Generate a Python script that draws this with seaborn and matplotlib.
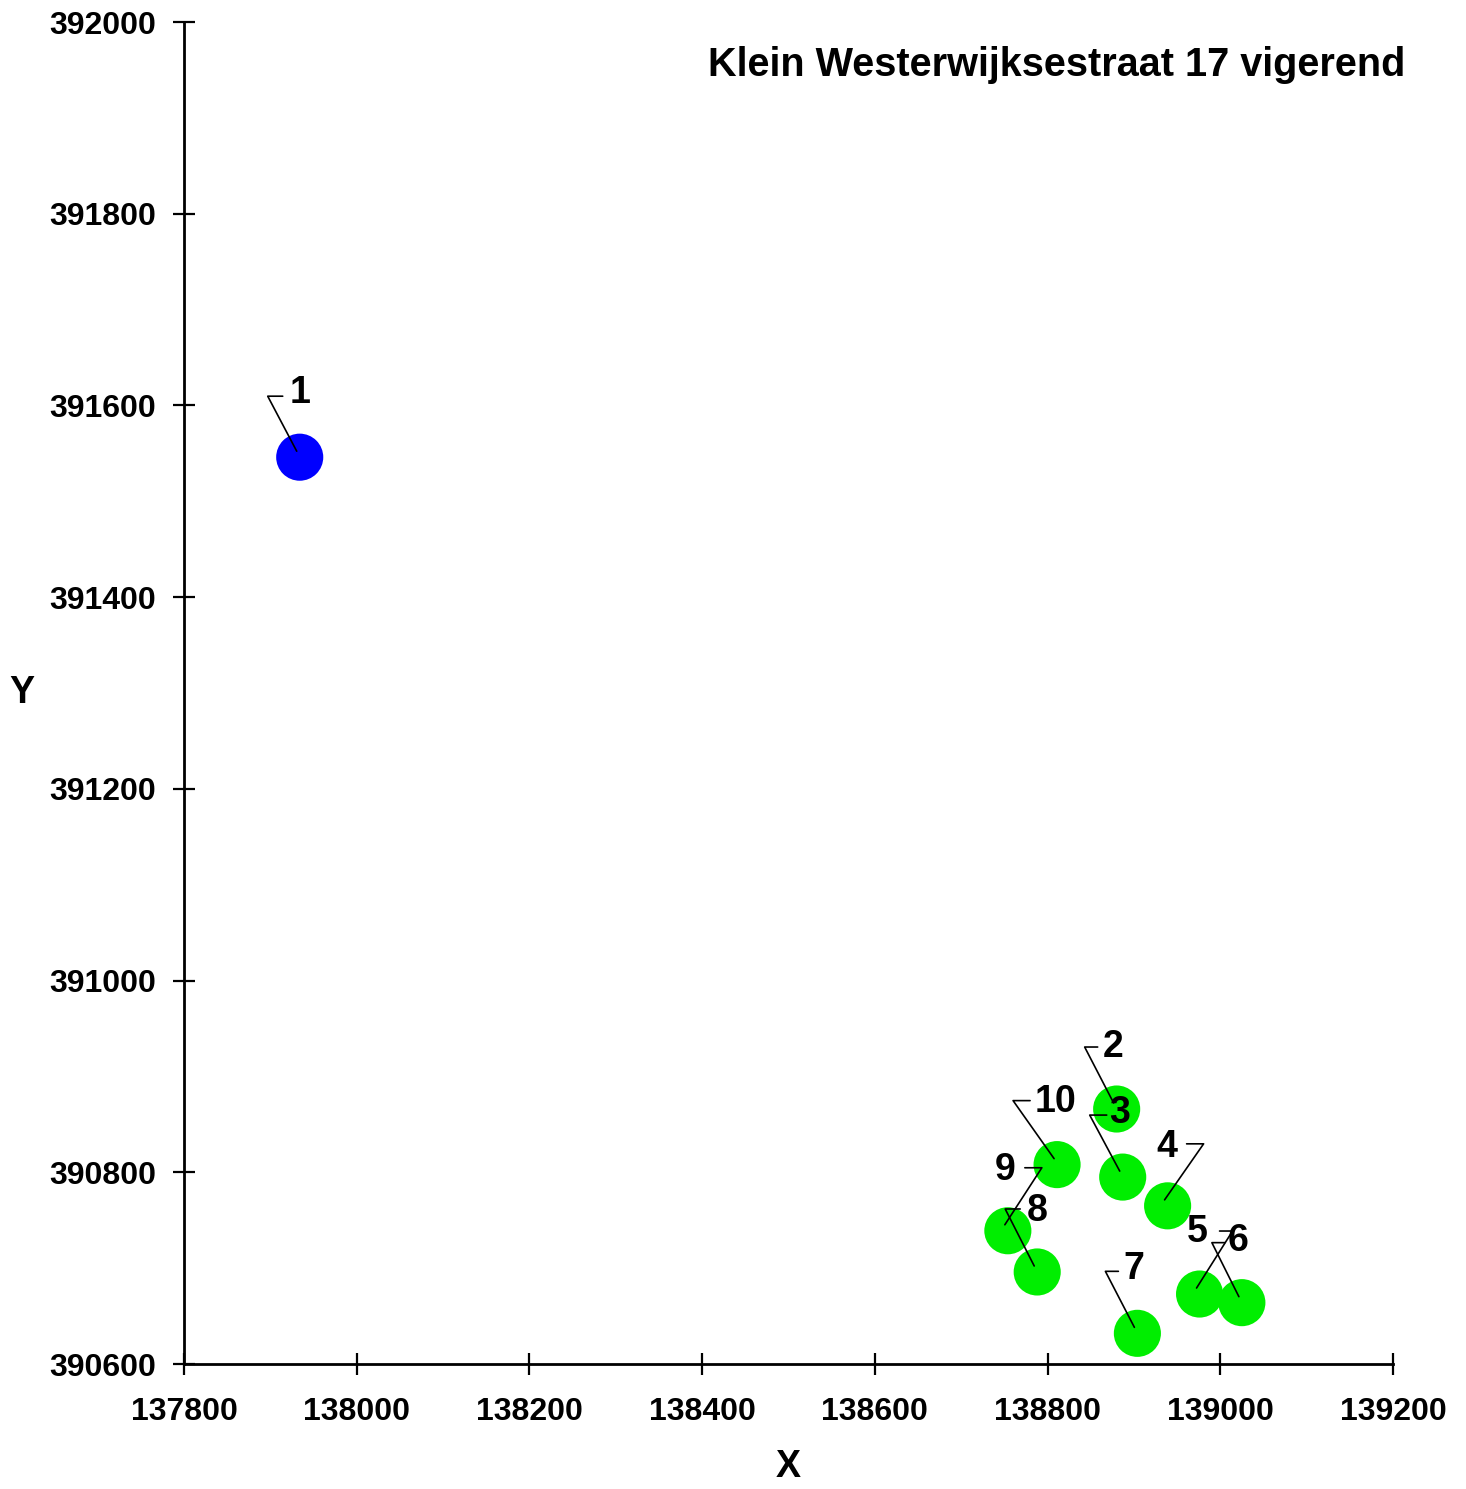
#%%
import numpy as np
import pandas as pd
import matplotlib.pyplot as plt
import seaborn as sns

# %%
# point data
names = ['1', '2', '3', '4', '5', '6', '7', '8', '9', '10']
x_coord = [137934, 138880, 138887, 138939, 138976, 139025, 138904, 138788, 138754, 138811]
y_coord = [391546, 390866, 390795, 390765, 390673, 390664, 390632, 390696, 390739, 390808]
group = ['a', 'b', 'b', 'b', 'b', 'b', 'b', 'b', 'b', 'b']

x_ticks = [137800, 138000, 138200, 138400, 138600, 138800, 139000, 139200]
y_ticks = [390600, 390800, 391000, 391200, 391400, 391600, 391800, 392000]
title = 'Klein Westerwijksestraat 17 vigerend'

# label placement in pixels relative to the point (y down): text, hook corner, hook end
text_off = [(0, -64), (-4, -62), (-3, -64), (-1, -59), (-2, -62),
            (-4, -62), (-4, -64), (0, -61), (-3, -61), (-2, -63)]
corner_off = [(-32, -61), (-32, -62), (-33, -62), (36, -62), (33, -63),
              (-30, -60), (-32, -62), (-32, -63), (34, -63), (-44, -64)]
hook_off = [(-17, -61), (-19, -62), (-16, -62), (19, -62), (20, -63),
            (-17, -60), (-19, -62), (-17, -63), (17, -63), (-27, -64)]

df = pd.DataFrame({'X': x_coord, 'Y': y_coord, 'group': group, 'name': names})

# %%
sns.set_theme(style='white')
plt.rcParams['font.family'] = ['Liberation Sans', 'DejaVu Sans']
plt.rcParams['font.weight'] = 'bold'
plt.rcParams['text.color'] = 'black'

fig = plt.figure(figsize=(14.66, 14.89), dpi=100)
ax = fig.add_axes([184 / 1466, 125 / 1489, 1209 / 1466, 1342 / 1489])

sns.scatterplot(data=df, x='X', y='Y', hue='group',
                palette={'a': '#0000ff', 'b': '#00ee00'},
                s=1150, edgecolor='none', legend=None, ax=ax, zorder=2)

ax.set_xlim(137800, 139200)
ax.set_ylim(390600, 392000)
ax.set_xticks(x_ticks)
ax.set_yticks(y_ticks)
ax.tick_params(bottom=True, left=True, direction='inout', length=16, width=1.6,
               labelsize=23, colors='black')
ax.tick_params(axis='x', pad=16)
ax.tick_params(axis='y', pad=12)
for lab in ax.get_xticklabels() + ax.get_yticklabels():
    lab.set_fontweight('bold')
sns.despine(ax=ax)
for side in ['left', 'bottom']:
    ax.spines[side].set_linewidth(2)
    ax.spines[side].set_color('black')

ax.set_xlabel('X', fontsize=27, fontweight='bold', color='black')
ax.set_ylabel('Y', fontsize=27, fontweight='bold', rotation=0, color='black')
ax.yaxis.label.set_va('center')
ax.yaxis.set_label_coords(-0.134, 0.5)
ax.xaxis.label.set_va('center')
ax.xaxis.set_label_coords(0.5, -0.077)

# leader lines and labels
inv = ax.transData.inverted()
def off(px, py, d):
    return inv.transform((px + d[0], py - d[1]))

for i, row in df.iterrows():
    px, py = ax.transData.transform((row.X, row.Y))
    end = off(px, py, (-3, -6))
    c = off(px, py, corner_off[i])
    h = off(px, py, hook_off[i])
    ax.plot([end[0], c[0], h[0]], [end[1], c[1], h[1]], color='black', lw=1.2, zorder=3)
    t = off(px, py, text_off[i])
    ax.text(t[0], t[1], row['name'], fontsize=27, fontweight='bold',
            ha='center', va='center', zorder=4, color='black')

fig.text(1405 / 1466, 1 - 65 / 1489, title, fontsize=28.5, fontweight='bold',
         ha='right', va='center', color='black')

plt.savefig('out.png', dpi=100)
